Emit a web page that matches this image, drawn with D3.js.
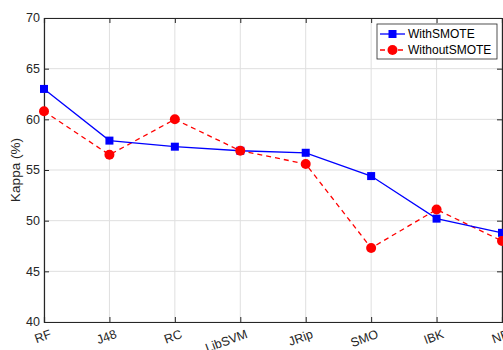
<!DOCTYPE html>
<html><head><meta charset="utf-8">
<script src="https://cdn.jsdelivr.net/npm/d3@7"></script>
<style>body{margin:0;background:#fff;}svg{display:block;font-family:"Liberation Sans",Arial,sans-serif;}</style>
</head><body>
<svg id="c" width="503" height="350"></svg>
<script>
const categories = ["RF","J48","RC","LibSVM","JRip","SMO","IBK","NB"];
const withSMOTE = [63.0,57.9,57.3,56.9,56.7,54.4,50.2,48.8];
const withoutSMOTE = [60.8,56.5,60.0,56.9,55.6,47.3,51.1,48.0];
const yTicks = [40,45,50,55,60,65,70];
const seriesNames = ["WithSMOTE","WithoutSMOTE"];

const svg = d3.select("#c");
const L=44,R=502,T=18,B=322;
const x = d3.scalePoint().domain(categories).range([L,R]);
const y = d3.scaleLinear().domain([40,70]).range([B,T]);
const axCol="#262626";

const g=svg.append("g");
// grid
g.selectAll(".gx").data(categories).enter().append("line")
 .attr("x1",d=>x(d)).attr("x2",d=>x(d)).attr("y1",T).attr("y2",B)
 .attr("stroke","#dfdfdf").attr("stroke-width",1);
g.selectAll(".gy").data(yTicks).enter().append("line")
 .attr("x1",L).attr("x2",R).attr("y1",d=>y(d)).attr("y2",d=>y(d))
 .attr("stroke","#dfdfdf").attr("stroke-width",1);

// axes
const ax=d3.axisBottom(x).tickSize(-5).tickFormat("");
const bx=g.append("g").attr("transform",`translate(0,${B})`).call(ax);
const tx=g.append("g").attr("transform",`translate(0,${T})`).call(d3.axisTop(x).tickSize(-5).tickFormat(""));
const ly=g.append("g").attr("transform",`translate(${L},0)`).call(d3.axisLeft(y).tickValues(yTicks).tickSize(-5).tickFormat(""));
const ry=g.append("g").attr("transform",`translate(${R},0)`).call(d3.axisRight(y).tickValues(yTicks).tickSize(-5).tickFormat(""));
[bx,tx,ly,ry].forEach(a=>{a.selectAll("path").attr("stroke",axCol).attr("stroke-width",1.2);a.selectAll("line").attr("stroke",axCol);});

// tick labels
g.selectAll(".yl").data(yTicks).enter().append("text")
 .attr("x",L-4).attr("y",d=>y(d)).attr("dy","0.35em").attr("text-anchor","end")
 .attr("font-size",12.5).attr("fill",axCol).text(d=>d);
g.selectAll(".xl").data(categories).enter().append("text")
 .attr("transform",d=>`translate(${x(d)+5},${B+7}) rotate(-20)`)
 .attr("text-anchor","end").attr("dy","0.72em")
 .attr("font-size",12.5).attr("fill",axCol).text(d=>d);

svg.append("text").attr("transform",`translate(20,${(T+B)/2}) rotate(-90)`)
 .attr("text-anchor","middle").attr("font-size",13.5).attr("fill",axCol).text("Kappa (%)");

// lines
const line=d3.line().x((d,i)=>x(categories[i])).y(d=>y(d));
g.append("path").datum(withoutSMOTE).attr("d",line).attr("fill","none")
 .attr("stroke","#ff0000").attr("stroke-width",1.3).attr("stroke-dasharray","5,4");
g.append("path").datum(withSMOTE).attr("d",line).attr("fill","none")
 .attr("stroke","#0000ff").attr("stroke-width",1.3);
g.selectAll(".ms").data(withSMOTE).enter().append("rect")
 .attr("x",(d,i)=>x(categories[i])-4).attr("y",d=>y(d)-4).attr("width",8).attr("height",8)
 .attr("fill","#0000ff");
g.selectAll(".mc").data(withoutSMOTE).enter().append("circle")
 .attr("cx",(d,i)=>x(categories[i])).attr("cy",d=>y(d)).attr("r",5)
 .attr("fill","#ff0000");

// legend
const lg=svg.append("g");
lg.append("rect").attr("x",377).attr("y",24).attr("width",120).attr("height",35)
 .attr("fill","#fff").attr("stroke",axCol).attr("stroke-width",0.8);
const ly0=[34,50];
seriesNames.forEach((n,i)=>{
  const yy=ly0[i];
  lg.append("line").attr("x1",380).attr("x2",405).attr("y1",yy).attr("y2",yy)
   .attr("stroke",i?"#ff0000":"#0000ff").attr("stroke-width",1.3)
   .attr("stroke-dasharray",i?"5,4":null);
  if(i) lg.append("circle").attr("cx",392.5).attr("cy",yy).attr("r",5).attr("fill","#ff0000");
  else lg.append("rect").attr("x",388.5).attr("y",yy-4).attr("width",8).attr("height",8).attr("fill","#0000ff");
  lg.append("text").attr("x",408).attr("y",yy).attr("dy","0.35em").attr("font-size",12)
   .attr("fill","#000").text(n);
});
</script>
</body></html>
